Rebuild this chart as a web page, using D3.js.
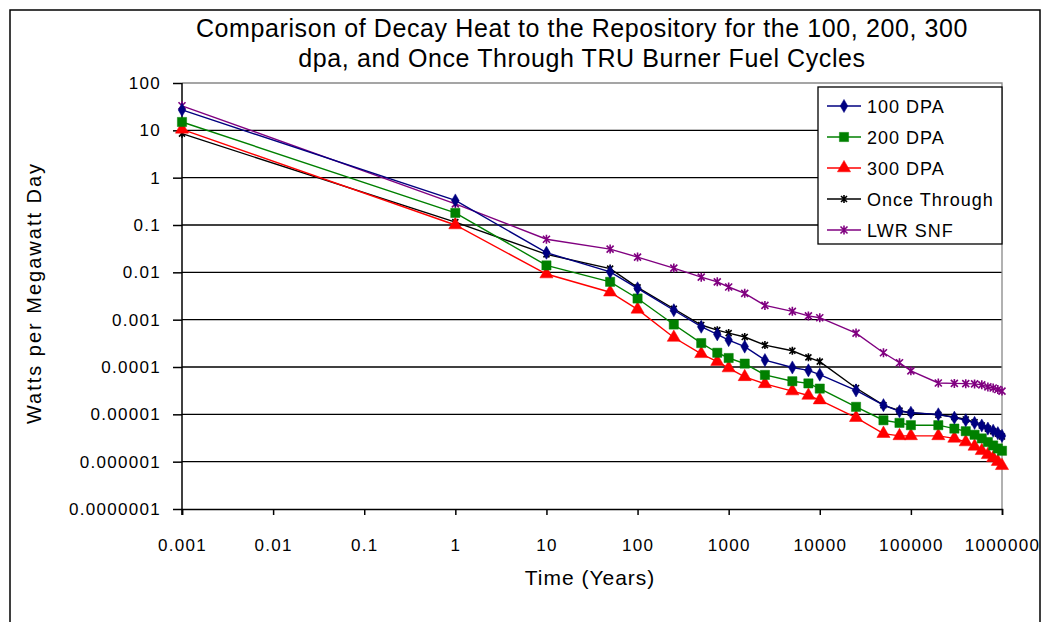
<!DOCTYPE html>
<html>
<head>
<meta charset="utf-8">
<script src="https://cdn.jsdelivr.net/npm/d3@7"></script>
<style>
  body { margin: 0; background: #fff; }
  svg text { font-family: "Liberation Sans", Arial, sans-serif; fill: #000; }
</style>
</head>
<body>
<svg id="chart"></svg>
<script>
// Values (log-log chart)
const times = [0.001, 1, 10, 50, 100, 250, 500, 750, 1000, 1500, 2500, 5000, 7500, 10000,
  25000, 50000, 75000, 100000, 200000, 300000, 400000, 500000, 600000, 700000, 800000, 900000, 1000000];

const dpa100 = [27, 0.33, 0.026, 0.0102, 0.0046, 0.00158, 0.00071, 0.00049, 0.00037, 0.00027, 0.00014,
  0.0000977, 0.000085, 0.000069, 0.000032, 0.0000156, 0.0000116, 0.0000108, 0.00001, 0.0000085,
  0.0000075, 0.0000066, 0.0000058, 0.000005, 0.0000045, 0.000004, 0.0000035];
const dpa200 = [15, 0.18, 0.014, 0.0063, 0.0028, 0.00079, 0.00032, 0.0002, 0.000155, 0.000118, 0.000068,
  0.00005, 0.000045, 0.000035, 0.0000144, 0.0000075, 0.0000066, 0.0000059, 0.0000059, 0.000005,
  0.0000044, 0.0000037, 0.0000031, 0.0000026, 0.0000022, 0.0000019, 0.0000017];
const dpa300 = [10.5, 0.10, 0.0092, 0.0038, 0.00165, 0.00042, 0.00019, 0.00013, 0.000095, 0.000062, 0.000044,
  0.000031, 0.000025, 0.00002, 0.0000085, 0.0000039, 0.0000035, 0.0000035, 0.0000035, 0.0000031,
  0.0000026, 0.0000021, 0.0000017, 0.0000014, 0.0000012, 0.000001, 0.00000082];
const onceThrough = [8.5, 0.115, 0.024, 0.012, 0.0048, 0.0017, 0.00077, 0.0006, 0.00052, 0.00043, 0.00029,
  0.00022, 0.00016, 0.00013, 0.000036, 0.0000156, 0.000012, 0.0000108, 0.0000098, 0.0000088,
  0.0000078, 0.0000068, 0.0000058, 0.000005, 0.0000044, 0.0000039, 0.0000034];
const lwrSnf = [33, 0.28, 0.05, 0.031, 0.021, 0.0123, 0.0079, 0.0063, 0.0049, 0.0036, 0.002,
  0.0015, 0.0012, 0.0011, 0.00052, 0.0002, 0.000123, 0.000083, 0.000046, 0.000045,
  0.0000445, 0.000044, 0.000042, 0.000038, 0.000036, 0.0000335, 0.000031];

const seriesNames = ["100 DPA", "200 DPA", "300 DPA", "Once Through", "LWR SNF"];

const xTicks = [0.001, 0.01, 0.1, 1, 10, 100, 1000, 10000, 100000, 1000000];
const xTickLabels = ["0.001", "0.01", "0.1", "1", "10", "100", "1000", "10000", "100000", "1000000"];
const yTicks = [1e-7, 1e-6, 1e-5, 1e-4, 1e-3, 0.01, 0.1, 1, 10, 100];
const yTickLabels = ["0.0000001", "0.000001", "0.00001", "0.0001", "0.001", "0.01", "0.1", "1", "10", "100"];

// drawing settings
const s = {
    width: 1049, height: 622,
    left: 182, right: 1002, top: 83, bottom: 509,
    colors: ["#000080", "#008000", "#ff0000", "#000000", "#800080"],
    markers: ["diamond", "square", "triangle", "cross", "star"]
};

const series = [dpa100, dpa200, dpa300, onceThrough, lwrSnf].map((vals, i) => ({
    name: seriesNames[i],
    color: s.colors[i],
    marker: s.markers[i],
    points: times.map((t, j) => ({t: t, v: vals[j]}))
}));

const svg = d3.select("#chart")
    .attr("width", s.width)
    .attr("height", s.height);

// outer chart border
svg.append("rect")
    .attr("x", 10).attr("y", 10)
    .attr("width", 1030).attr("height", 640)
    .style("fill", "none")
    .style("stroke", "#000")
    .style("stroke-width", 1.5);

const x = d3.scaleLog().domain([0.001, 1000000]).range([s.left, s.right]);
const y = d3.scaleLog().domain([1e-7, 100]).range([s.bottom, s.top]);

// horizontal gridlines
svg.append("g")
    .selectAll("line")
    .data(yTicks.slice(1, -1))
    .join("line")
    .attr("x1", s.left).attr("x2", s.right)
    .attr("y1", d => y(d)).attr("y2", d => y(d))
    .style("stroke", "#000")
    .style("stroke-width", 1.3);

// plot area border (top/right in grey)
svg.append("path")
    .attr("d", `M${s.left},${s.top}H${s.right}V${s.bottom}`)
    .style("fill", "none")
    .style("stroke", "#888")
    .style("stroke-width", 1.3);

// axes
const yAxis = svg.append("g")
    .attr("transform", `translate(${s.left},0)`)
    .call(d3.axisLeft(y).tickValues(yTicks).tickFormat((d, i) => yTickLabels[i]).tickSize(9).tickPadding(12));
const xAxis = svg.append("g")
    .attr("transform", `translate(0,${s.bottom})`)
    .call(d3.axisBottom(x).tickValues(xTicks).tickFormat((d, i) => xTickLabels[i]).tickSize(6).tickPadding(24));

[yAxis, xAxis].forEach(g => {
    g.select(".domain").style("stroke", "#000").style("stroke-width", 1.5);
    g.selectAll(".tick line").style("stroke", "#000").style("stroke-width", 1.5);
    g.selectAll("text")
        .style("font-family", "'Liberation Sans', Arial, sans-serif")
        .style("font-size", "17px")
        .style("letter-spacing", "1.3px")
        .style("fill", "#000");
});
// extend y axis line down through the x tick length
yAxis.select(".domain").attr("d", `M0,${s.top}V${s.bottom + 6}`);

// marker shapes
function markerPath(type) {
    if (type === "diamond") return d3.symbol(d3.symbolDiamond, 50)();
    if (type === "square") return d3.symbol(d3.symbolSquare, 85)();
    if (type === "triangle") return d3.symbol(d3.symbolTriangle, 75)();
    if (type === "cross") return "M-3,-3L3,3M-3,3L3,-3M0,-4V4";
    return "M-3.5,-3.5L3.5,3.5M-3.5,3.5L3.5,-3.5M0,-4.5V4.5";
}

const line = d3.line().x(d => x(d.t)).y(d => y(d.v));

const gSeries = svg.append("g").attr("class", "series");
series.slice().reverse().forEach(sr => {
    const g = gSeries.append("g");
    g.append("path")
        .datum(sr.points)
        .attr("d", line)
        .style("fill", "none")
        .style("stroke", sr.color)
        .style("stroke-width", 1.4);
    g.selectAll("path.mk")
        .data(sr.points)
        .join("path")
        .attr("class", "mk")
        .attr("transform", d => `translate(${x(d.t)},${y(d.v)})`)
        .attr("d", markerPath(sr.marker))
        .style("fill", sr.color)
        .style("stroke", sr.color)
        .style("stroke-width", (sr.marker === "cross" || sr.marker === "star") ? 1.6 : 0.5);
});

// title
const title = svg.append("text")
    .attr("text-anchor", "middle")
    .style("font-size", "25px")
    .style("letter-spacing", "0.6px");
title.append("tspan").attr("x", 582).attr("y", 37)
    .text("Comparison of Decay Heat to the Repository for the 100, 200, 300");
title.append("tspan").attr("x", 582).attr("y", 67)
    .text("dpa, and Once Through TRU Burner Fuel Cycles");

// axis titles
svg.append("text")
    .attr("x", 590).attr("y", 585)
    .attr("text-anchor", "middle")
    .style("font-size", "21px")
    .style("letter-spacing", "1px")
    .text("Time (Years)");
svg.append("text")
    .attr("transform", "translate(41,293) rotate(-90)")
    .attr("text-anchor", "middle")
    .style("font-size", "20px")
    .style("letter-spacing", "2px")
    .text("Watts per Megawatt Day");

// legend
const legend = svg.append("g").attr("transform", "translate(818,87)");
legend.append("rect")
    .attr("width", 184).attr("height", 157)
    .style("fill", "#fff")
    .style("stroke", "#000")
    .style("stroke-width", 1.3);
const item = legend.selectAll("g.item")
    .data(series)
    .join("g")
    .attr("class", "item")
    .attr("transform", (d, i) => `translate(0,${19 + i * 31})`);
item.append("line")
    .attr("x1", 9).attr("x2", 43)
    .style("stroke", d => d.color)
    .style("stroke-width", 1.4);
item.append("path")
    .attr("transform", "translate(26,0)")
    .attr("d", d => markerPath(d.marker))
    .style("fill", d => d.color)
    .style("stroke", d => d.color)
    .style("stroke-width", d => (d.marker === "cross" || d.marker === "star") ? 1.6 : 0.5);
item.append("text")
    .attr("x", 49).attr("y", 6.5)
    .style("font-size", "18px")
    .style("letter-spacing", "1px")
    .text(d => d.name);
</script>
</body>
</html>
